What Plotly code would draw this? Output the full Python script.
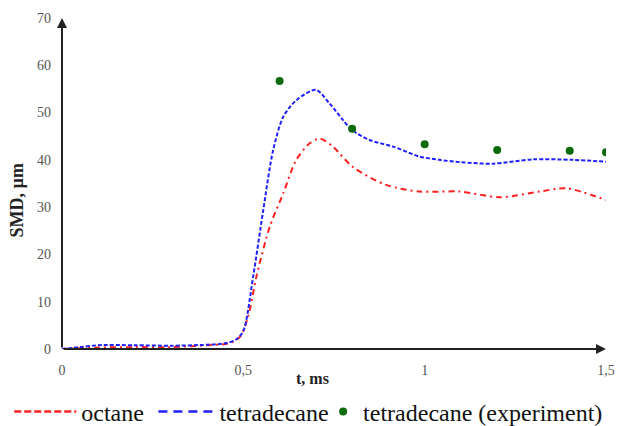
import plotly.graph_objects as go

# Simulated SMD, octane
t_octane = [0, 0.1, 0.2, 0.3, 0.4, 0.46, 0.49, 0.513, 0.536, 0.573, 0.61, 0.646,
            0.683, 0.711, 0.747, 0.802, 0.894, 0.986, 1.096, 1.207, 1.317, 1.39, 1.5]
smd_octane = [0, 0.3, 0.4, 0.4, 0.8, 1.2, 2.5, 6.8, 15.3, 25.9, 32.9, 40.0,
              43.5, 44.5, 42.8, 38.5, 34.7, 33.3, 33.3, 32.1, 33.3, 34.0, 31.5]

# Simulated SMD, tetradecane
t_tetra = [0, 0.05, 0.1, 0.2, 0.3, 0.4, 0.45, 0.48, 0.5, 0.527, 0.555, 0.582, 0.61,
           0.646, 0.70, 0.738, 0.775, 0.80, 0.848, 0.913, 0.986, 1.041, 1.1, 1.188,
           1.298, 1.409, 1.5]
smd_tetra = [0, 0.4, 0.8, 0.8, 0.7, 0.9, 1.2, 2.0, 3.8, 15.3, 29.4, 42.0, 49.1,
             52.6, 54.8, 51.9, 48.4, 46.3, 44.2, 42.8, 40.7, 40.0, 39.5, 39.2,
             40.1, 40.0, 39.6]

# Measured SMD, tetradecane
t_exp = [0.6, 0.8, 1.0, 1.2, 1.4, 1.5]
smd_exp = [56.7, 46.6, 43.3, 42.1, 41.9, 41.6]

x_ticks = [0, 0.5, 1, 1.5]
x_ticktext = ["0", "0,5", "1", "1,5"]
y_ticks = [0, 10, 20, 30, 40, 50, 60, 70]

serif = "Liberation Serif"
RED = "#ff2020"
BLUE = "#2020ff"
GREEN = "#0b6b0b"

fig = go.Figure()

# Data curves (legend entries are drawn by the key traces below)
fig.add_trace(go.Scatter(
    x=t_octane, y=smd_octane, mode="lines", name="octane", showlegend=False,
    line=dict(color=RED, width=2, dash="6px,4px,2px,4px", shape="spline", smoothing=0.8),
))
fig.add_trace(go.Scatter(
    x=t_tetra, y=smd_tetra, mode="lines", name="tetradecane", showlegend=False,
    line=dict(color=BLUE, width=2, dash="4px,2px", shape="spline", smoothing=0.8),
))
fig.add_trace(go.Scatter(
    x=t_exp, y=smd_exp, mode="markers", name="tetradecane (experiment)",
    legend="legend3",
    marker=dict(color=GREEN, size=8),
))

# Legend keys with their own dash patterns
fig.add_trace(go.Scatter(
    x=[None], y=[None], mode="lines", name="octane", legend="legend",
    line=dict(color=RED, width=2.5, dash="7px,3px"),
))
fig.add_trace(go.Scatter(
    x=[None], y=[None], mode="lines", name="tetradecane", legend="legend2",
    line=dict(color=BLUE, width=2.5, dash="9px,6px"),
))

# Axis lines with arrowheads
arrow = dict(xref="x", yref="y", axref="x", ayref="y", showarrow=True, text="",
             arrowhead=2, arrowsize=1, arrowwidth=2, arrowcolor="#222222")
fig.add_annotation(x=0, y=70, ax=0, ay=0, **arrow)
fig.add_annotation(x=1.5, y=0, ax=0, ay=0, **arrow)

# Axis titles
fig.add_annotation(xref="paper", yref="paper", x=0.461, y=-0.088, showarrow=False,
                   text="<b>t, ms</b>", xanchor="center", yanchor="middle",
                   font=dict(family=serif, size=16, color="#222222"))
fig.add_annotation(xref="paper", yref="paper", x=-0.082, y=0.450, showarrow=False,
                   text="<b>SMD, µm</b>", textangle=-90, xanchor="center", yanchor="middle",
                   font=dict(family=serif, size=18, color="#222222"))

legend_common = dict(orientation="h", yanchor="middle", y=-0.19, xanchor="left",
                     bgcolor="rgba(0,0,0,0)", borderwidth=0,
                     font=dict(family=serif, size=24, color="#111111"))

fig.update_layout(
    width=618, height=426,
    margin=dict(l=62, r=12, t=18, b=77, autoexpand=False),
    plot_bgcolor="white", paper_bgcolor="white",
    font=dict(family=serif, color="#333333"),
    showlegend=True,
    legend=dict(x=-0.097, itemwidth=62, **legend_common),
    legend2=dict(x=0.168, itemwidth=56, **legend_common),
    legend3=dict(x=0.48, itemwidth=30, **legend_common),
    xaxis=dict(
        range=[0, 1.5], tickvals=x_ticks, ticktext=x_ticktext,
        showgrid=False, zeroline=False, showline=False, ticks="",
        tickfont=dict(family=serif, size=14, color="#555555"),
        ticklabelstandoff=11,
    ),
    yaxis=dict(
        range=[0, 70], tickvals=y_ticks,
        showgrid=False, zeroline=False, showline=False, ticks="",
        tickfont=dict(family=serif, size=14, color="#555555"),
        ticklabelstandoff=10,
    ),
)

fig.write_html("out.html")
